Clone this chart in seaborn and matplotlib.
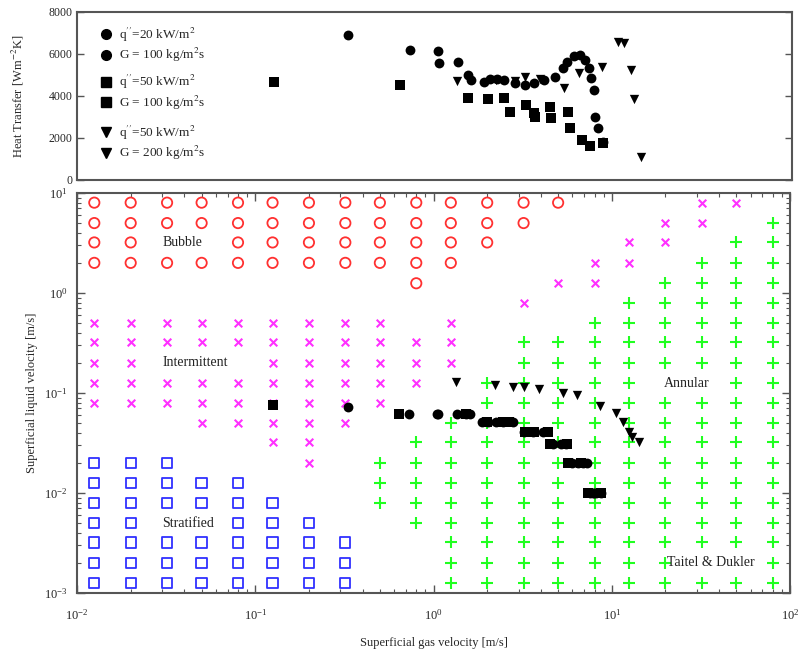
import matplotlib
matplotlib.use("Agg")
import matplotlib.pyplot as plt
import seaborn as sns
import pandas as pd
from matplotlib.lines import Line2D
from matplotlib.ticker import LogLocator, NullFormatter

# ---------------- data ----------------
# flow-map grid (superficial gas / liquid velocity, m/s)
grid_ug = [0.0125, 0.02, 0.032, 0.05, 0.08, 0.125, 0.2, 0.32, 0.5, 0.8,
           1.25, 2, 3.2, 5, 8, 12.5, 20, 32, 50, 80]
grid_ul = [0.00125, 0.002, 0.0032, 0.005, 0.008, 0.0125, 0.02, 0.032, 0.05, 0.08,
           0.125, 0.2, 0.32, 0.5, 0.8, 1.25, 2, 3.2, 5, 8]

# row index -> list of (first, last) column index spans
bubble_spans = {19: [(0, 13)], 18: [(0, 12)], 17: [(0, 1), (4, 11)],
                16: [(0, 10)], 15: [(9, 9)]}
intermittent_spans = {19: [(17, 18)], 18: [(16, 17)], 17: [(15, 16)], 16: [(14, 15)],
                      15: [(13, 14)], 14: [(12, 12)], 13: [(0, 8), (10, 10)],
                      12: [(0, 10)], 11: [(0, 1), (5, 10)], 10: [(0, 9)],
                      9: [(0, 8)], 8: [(3, 7)], 7: [(5, 6)], 6: [(6, 6)]}
stratified_spans = {6: [(0, 2)], 5: [(0, 4)], 4: [(0, 5)], 3: [(0, 1), (4, 6)],
                    2: [(0, 7)], 1: [(0, 7)], 0: [(0, 7)]}
annular_spans = {18: [(19, 19)], 17: [(18, 19)], 16: [(17, 19)], 15: [(16, 19)],
                 14: [(15, 19)], 13: [(14, 19)], 12: [(12, 19)], 11: [(12, 19)],
                 10: [(11, 15), (18, 19)], 9: [(11, 19)], 8: [(10, 19)], 7: [(9, 19)],
                 6: [(8, 19)], 5: [(8, 19)], 4: [(8, 19)], 3: [(9, 19)], 2: [(10, 19)],
                 1: [(10, 16), (19, 19)], 0: [(10, 19)]}

# experimental series: gas velocity, heat transfer coefficient, liquid velocity
c_ug = [0.33, 0.73, 1.05, 1.06, 1.36, 1.53, 1.60, 1.88, 2.03, 2.23, 2.46, 2.8, 3.2,
        3.6, 4.1, 4.7, 5.2, 5.5, 6.0, 6.5, 6.9, 7.3, 7.5, 7.8, 7.9, 8.2, 8.7]
c_htc = [6900, 6190, 6140, 5570, 5620, 5000, 4760, 4670, 4810, 4810, 4760, 4620, 4520,
         4620, 4760, 4900, 5330, 5620, 5900, 5950, 5710, 5330, 4860, 4290, 3000, 2480, 1810]
c_ul = [0.072, 0.062, 0.062, 0.062, 0.062, 0.062, 0.062, 0.051, 0.051, 0.051, 0.051,
        0.051, 0.041, 0.041, 0.041, 0.031, 0.031, 0.031, 0.020, 0.020, 0.020, 0.020,
        0.010, 0.010, 0.010, 0.010, 0.010]

s_ug = [0.126, 0.64, 1.53, 2.0, 2.46, 2.65, 3.26, 3.6, 3.65, 4.4, 4.5, 5.6, 5.7, 6.7, 7.4, 8.7]
s_htc = [4670, 4520, 3900, 3860, 3900, 3240, 3570, 3190, 3000, 3480, 2950, 3240, 2480,
         1900, 1620, 1760]
s_ul = [0.075, 0.062, 0.062, 0.051, 0.051, 0.051, 0.041, 0.041, 0.041, 0.041, 0.031,
        0.031, 0.020, 0.020, 0.010, 0.010]

t_ug = [1.33, 2.2, 2.8, 3.2, 3.9, 5.3, 6.4, 8.6, 10.6, 11.5, 12.5, 13.0, 14.2]
t_htc = [4710, 4750, 4700, 4900, 4800, 4380, 5100, 5380, 6570, 6520, 5240, 3860, 1100]
t_ul = [0.128, 0.12, 0.115, 0.115, 0.11, 0.10, 0.096, 0.074, 0.063, 0.051, 0.041, 0.036, 0.032]

legend_labels = [("q$''$=20 kW/m$^2$", "G = 100 kg/m$^2$s"),
                 ("q$''$=50 kW/m$^2$", "G = 100 kg/m$^2$s"),
                 ("q$''$=50 kW/m$^2$", "G = 200 kg/m$^2$s")]

region_labels = ["Bubble", "Intermittent", "Stratified", "Annular", "Taitel & Dukler"]
region_label_pos = [(0.030, 3.2), (0.030, 0.2), (0.030, 0.005), (19.5, 0.125), (20.5, 0.002)]


def cells(spans):
    xs, ys = [], []
    for row, segs in spans.items():
        for a, b in segs:
            for c in range(a, b + 1):
                xs.append(grid_ug[c])
                ys.append(grid_ul[row])
    return pd.DataFrame({"ug": xs, "ul": ys})


# ---------------- style ----------------
sns.set_style("ticks")
plt.rcParams["font.family"] = ["Liberation Serif", "DejaVu Serif"]
plt.rcParams["mathtext.fontset"] = "stix"
plt.rcParams["font.size"] = 9
spine_col = "#555555"

fig = plt.figure(figsize=(7.99, 6.55), dpi=100)
ax1 = fig.add_axes([0.0964, 0.7252, 0.895, 0.2565])
ax2 = fig.add_axes([0.0964, 0.0947, 0.8924, 0.6107])

df_c = pd.DataFrame({"ug": c_ug, "htc": c_htc, "ul": c_ul})
df_s = pd.DataFrame({"ug": s_ug, "htc": s_htc, "ul": s_ul})
df_t = pd.DataFrame({"ug": t_ug, "htc": t_htc, "ul": t_ul})

# ---------------- top panel ----------------
blk = dict(color="black", edgecolor="black", linewidth=0, legend=False, zorder=3)
sns.scatterplot(data=df_c, x="ug", y="htc", marker="o", s=50, ax=ax1, **blk)
sns.scatterplot(data=df_s, x="ug", y="htc", marker="s", s=50, ax=ax1, **blk)
sns.scatterplot(data=df_t, x="ug", y="htc", marker="v", s=45, ax=ax1, **blk)
ax1.set_xscale("log")
ax1.set_xlim(0.01, 100)
ax1.set_ylim(0, 8000)
ax1.set_yticks([0, 2000, 4000, 6000, 8000])
ax1.tick_params(axis="x", which="both", bottom=False, top=False, labelbottom=False)
ax1.tick_params(axis="y", direction="in", right=True, length=5, width=1, pad=3,
                labelsize=8.5, color=spine_col)
ax1.set_xlabel("")
ax1.set_ylabel("Heat Transfer [Wm$^{-2}$K]", fontsize=9)
ax1.yaxis.set_label_coords(-0.071, 0.5)

markers = ["o", "s", "v"]
ycent = [0.804, 0.521, 0.220]
legs = []
for mk, (l1, l2), yc in zip(markers, legend_labels, ycent):
    handles = [Line2D([], [], ls="none", marker=mk, color="black", markersize=7)
               for _ in range(2)]
    leg = ax1.legend(handles, [l1, l2], loc="center left", bbox_to_anchor=(0.031, yc),
                     frameon=False, handlelength=1.0, handletextpad=0.5,
                     borderpad=0, borderaxespad=0, labelspacing=0.2, fontsize=9.5)
    legs.append(leg)
for leg in legs[:-1]:
    ax1.add_artist(leg)

# ---------------- bottom panel ----------------
sns.scatterplot(data=cells(bubble_spans), x="ug", y="ul", marker="o", s=55,
                facecolor="none", edgecolor="#ff3030", linewidth=1.3, ax=ax2, legend=False)
sns.scatterplot(data=cells(intermittent_spans), x="ug", y="ul", marker="x", s=30,
                color="#ff30ff", linewidth=1.5, ax=ax2, legend=False)
sns.scatterplot(data=cells(stratified_spans), x="ug", y="ul", marker="s", s=55,
                facecolor="none", edgecolor="#3030ff", linewidth=1.3, ax=ax2, legend=False)
sns.scatterplot(data=cells(annular_spans), x="ug", y="ul", marker="+", s=70,
                color="#20ff20", linewidth=1.5, ax=ax2, legend=False)

sns.scatterplot(data=df_c, x="ug", y="ul", marker="o", s=50, ax=ax2, **blk)
sns.scatterplot(data=df_s, x="ug", y="ul", marker="s", s=50, ax=ax2, **blk)
sns.scatterplot(data=df_t, x="ug", y="ul", marker="v", s=45, ax=ax2, **blk)

for txt, (lx, ly) in zip(region_labels, region_label_pos):
    ax2.text(lx, ly, txt, ha="left", va="center", fontsize=10, color="#222222", zorder=4)

ax2.set_xscale("log")
ax2.set_yscale("log")
ax2.set_xlim(0.01, 100)
ax2.set_ylim(0.001, 10)
for axis in (ax2.xaxis, ax2.yaxis):
    axis.set_major_locator(LogLocator(base=10, numticks=10))
    axis.set_minor_locator(LogLocator(base=10, subs=range(2, 10), numticks=20))
    axis.set_minor_formatter(NullFormatter())
ax2.tick_params(which="both", direction="in", top=True, right=True, color=spine_col)
ax2.tick_params(which="major", length=6, width=1, labelsize=9)
ax2.tick_params(which="minor", length=3, width=0.8)
ax2.tick_params(axis="x", which="major", pad=11)
ax2.tick_params(axis="y", which="major", pad=7)
ax2.set_xlabel("Superficial gas velocity [m/s]", fontsize=9)
ax2.set_ylabel("Superficial liquid velocity [m/s]", fontsize=9)
ax2.xaxis.set_label_coords(0.5, -0.11)
ax2.yaxis.set_label_coords(-0.055, 0.5)

for ax in (ax1, ax2):
    for sp in ax.spines.values():
        sp.set_color(spine_col)
        sp.set_linewidth(1.5)

fig.savefig("out.png", dpi=100)
